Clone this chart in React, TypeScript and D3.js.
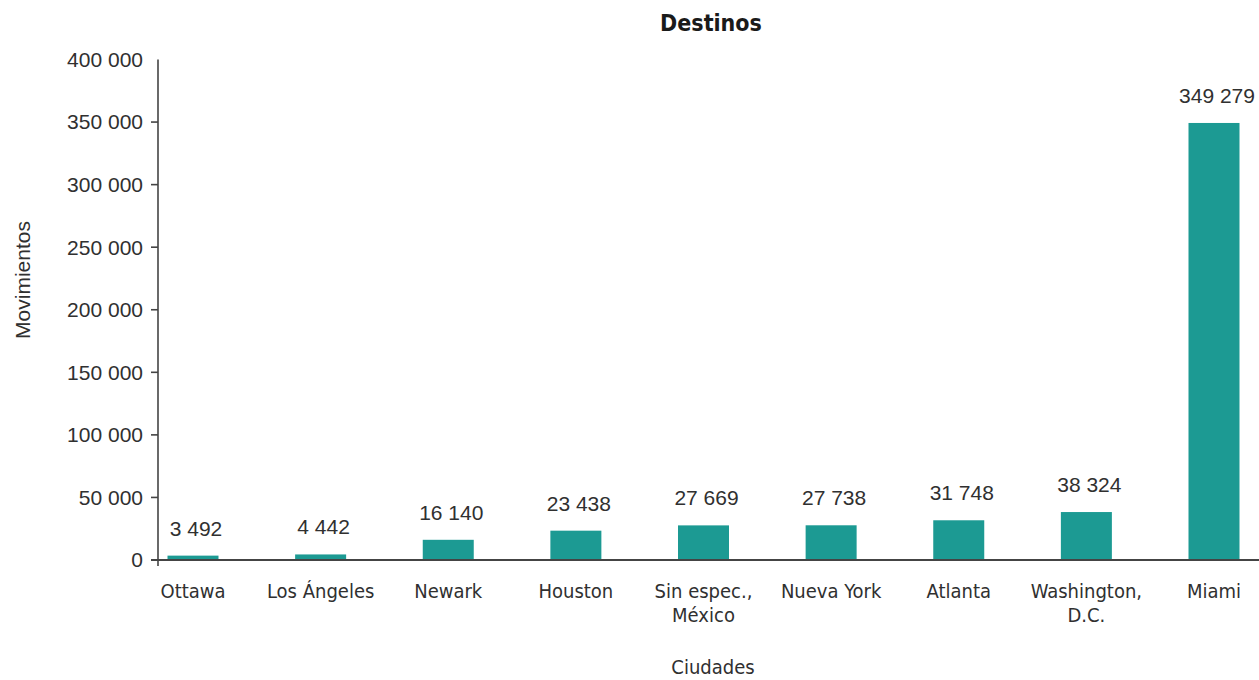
import React from "react";
import * as d3 from "d3";

const categories: string[][] = [
  ["Ottawa"],
  ["Los Ángeles"],
  ["Newark"],
  ["Houston"],
  ["Sin espec.,", "México"],
  ["Nueva York"],
  ["Atlanta"],
  ["Washington,", "D.C."],
  ["Miami"],
];
const values: number[] = [3492, 4442, 16140, 23438, 27669, 27738, 31748, 38324, 349279];
const yTicks: number[] = [0, 50000, 100000, 150000, 200000, 250000, 300000, 350000, 400000];
const title = "Destinos";
const xTitle = "Ciudades";
const yTitle = "Movimientos";

const W = 1259;
const H = 680;
const fmt = (v: number) => d3.format(",")(v).replace(/,/g, " ");

export default function App() {
  const keys = categories.map((c) => c.join(" "));
  const x = d3.scalePoint<string>().domain(keys).range([193, 1214]);
  const y = d3.scaleLinear().domain([0, 400000]).range([560, 59.5]);
  const bw = 51;
  const axisX = 158;
  const numFont = "'Liberation Sans', Arial, sans-serif";
  const catFont = "'DejaVu Sans Condensed', 'DejaVu Sans', sans-serif";
  const barColor = "#1c9a93";
  const textColor = "#303030";

  return (
    <svg
      width={W}
      height={H}
      style={{ position: "absolute", left: 0, top: 0, background: "#fff" }}
    >
      <text
        x={711}
        y={31}
        textAnchor="middle"
        fontFamily={catFont}
        fontStretch="condensed"
        fontWeight="bold"
        fontSize={23}
        fill="#1a1a1a"
      >
        {title}
      </text>

      {/* bars */}
      {values.map((v, i) => (
        <rect
          key={keys[i]}
          x={(x(keys[i]) as number) - bw / 2}
          y={y(v)}
          width={bw}
          height={y(0) - y(v)}
          fill={barColor}
        />
      ))}

      {/* value labels */}
      {values.map((v, i) => (
        <text
          key={"v" + keys[i]}
          x={(x(keys[i]) as number) + 3}
          y={y(v) - 20}
          textAnchor="middle"
          fontFamily={numFont}
          fontSize={21}
          fill={textColor}
        >
          {fmt(v)}
        </text>
      ))}

      {/* y axis */}
      <line x1={axisX} x2={axisX} y1={y(400000)} y2={566} stroke="#444" strokeWidth={1.6} />
      {yTicks.map((t) => (
        <g key={t}>
          {t !== 400000 && (
            <line x1={axisX - 7} x2={axisX} y1={y(t)} y2={y(t)} stroke="#444" strokeWidth={1.6} />
          )}
          <text
            x={axisX - 15}
            y={y(t)}
            dy="0.35em"
            textAnchor="end"
            fontFamily={numFont}
            fontSize={21}
            fill={textColor}
          >
            {fmt(t)}
          </text>
        </g>
      ))}

      {/* x axis */}
      <line x1={axisX - 7} x2={W} y1={y(0)} y2={y(0)} stroke="#444" strokeWidth={1.8} />

      {/* category labels */}
      {categories.map((lines, i) => (
        <text
          key={"c" + keys[i]}
          x={x(keys[i]) as number}
          y={598}
          textAnchor="middle"
          fontFamily={catFont}
          fontStretch="condensed"
          fontSize={20}
          fill={textColor}
        >
          {lines.map((l, j) => (
            <tspan key={j} x={x(keys[i]) as number} dy={j === 0 ? 0 : 24}>
              {l}
            </tspan>
          ))}
        </text>
      ))}

      <text
        x={713}
        y={674}
        textAnchor="middle"
        fontFamily={catFont}
        fontStretch="condensed"
        fontSize={20}
        fill={textColor}
      >
        {xTitle}
      </text>

      <text
        transform={`translate(30,280) rotate(-90)`}
        textAnchor="middle"
        fontFamily={numFont}
        fontSize={21}
        fill={textColor}
      >
        {yTitle}
      </text>
    </svg>
  );
}
